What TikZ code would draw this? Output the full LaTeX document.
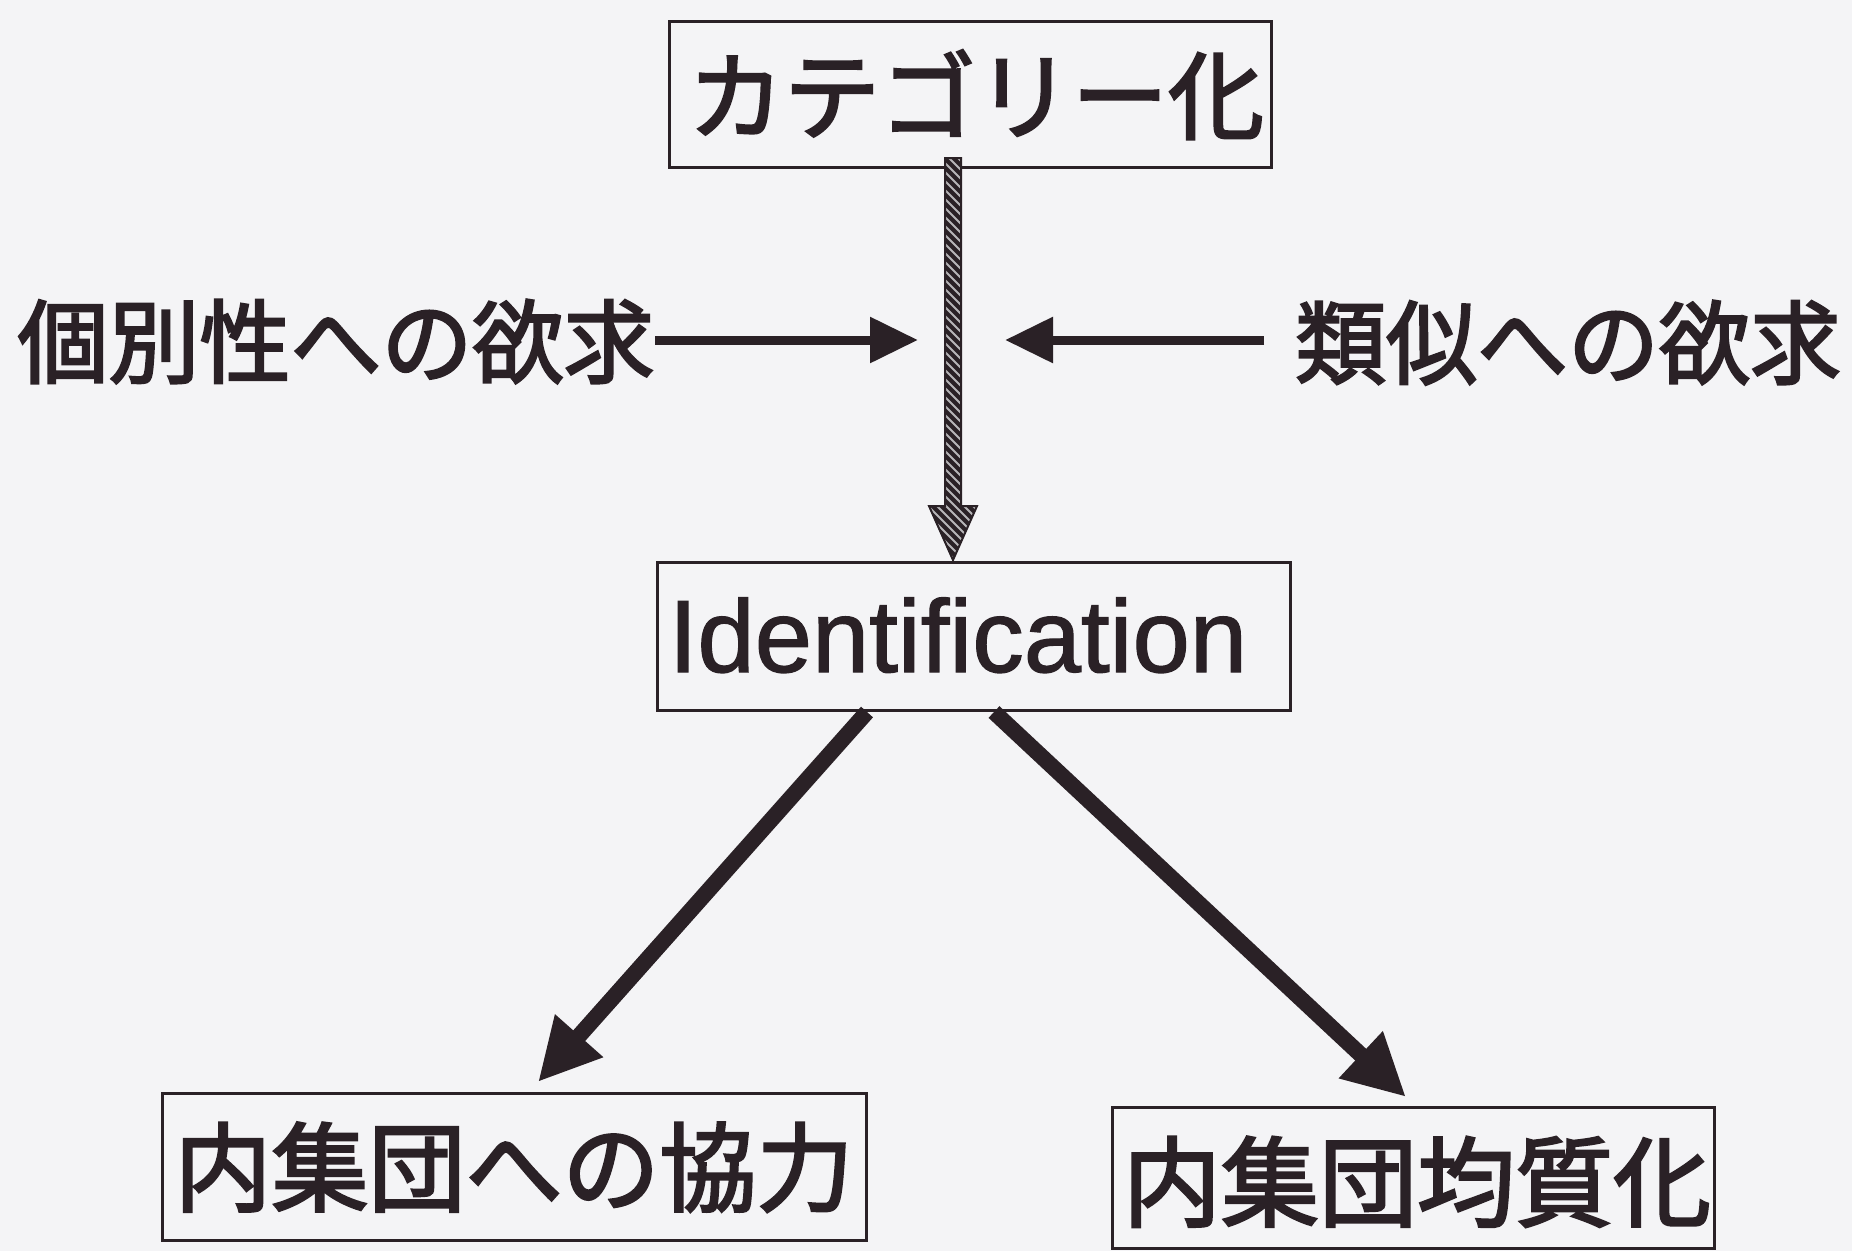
\documentclass[tikz,border=0pt]{standalone}
\usepackage{fontspec}
\newfontfamily\jp{Noto Sans CJK JP}[FakeBold=2.6]
\newfontfamily\lat{Liberation Sans}[FakeBold=1.2]
\usetikzlibrary{arrows.meta,calc}
\definecolor{ink}{RGB}{42,33,38}
\definecolor{bg}{RGB}{244,244,246}
\tikzset{
  boxnode/.style={draw=ink, line width=3pt, inner sep=0pt},
  txt/.style={text=ink, inner sep=0pt, anchor=base},
  sidearrow/.style={draw=ink, line width=9pt, -{Triangle[length=48pt,width=44pt]}},
  diagarrow/.style={draw=ink, line width=16pt, -{Triangle[length=62pt,width=60pt]}},
}
\begin{document}
\begin{tikzpicture}[x=1pt,y=-1pt]
\useasboundingbox[fill=bg] (0,0) rectangle (1852,1251);

% boxes
\node[boxnode, minimum width=602pt, minimum height=146pt] (catbox) at (970,94.5) {};
\node[boxnode, minimum width=633pt, minimum height=148pt] (idbox) at (973.5,636) {};
\node[boxnode, minimum width=704pt, minimum height=147pt] (coopbox) at (514,1166.5) {};
\node[boxnode, minimum width=602pt, minimum height=141pt] (homobox) at (1413,1177.5) {};

% texts
\node[txt, font=\fontsize{96pt}{100pt}\jp] (cat) at (976,132) {カテゴリー化};
\node[txt, font=\fontsize{103pt}{107pt}\lat] (ident) at (958,672) {Identification};
\node[txt, font=\fontsize{97pt}{100pt}\jp] (coop) at (514,1204) {内集団への協力};
\node[txt, font=\fontsize{98pt}{100pt}\jp] (homo) at (1417,1219) {内集団均質化};
\node[txt, font=\fontsize{91pt}{95pt}\jp] (indiv) at (336,376) {個別性への欲求};
\node[txt, font=\fontsize{91pt}{95pt}\jp] (simil) at (1568,377) {類似への欲求};

% side arrows
\coordinate (lstart) at (655,340);
\coordinate (ltip) at (918,340);
\coordinate (rstart) at (1264,340);
\coordinate (rtip) at (1005,340);
\draw[sidearrow] (lstart) -- (ltip);
\draw[sidearrow] (rstart) -- (rtip);

% hatched arrow from catbox to idbox
\coordinate (hs) at (953,158);
\coordinate (ht) at (953,560);
\def\hatchpath{($(hs)+(-8,0)$) -- ($(hs)+(8,0)$) -- ($(ht)+(8,-54)$) -- ($(ht)+(24,-54)$) -- (ht) -- ($(ht)+(-24,-54)$) -- ($(ht)+(-8,-54)$) -- cycle}
\fill[ink] \hatchpath;
\begin{scope}
  \clip \hatchpath;
  \foreach \i in {0,9,...,480} {
    \draw[bg!70!ink, line width=2pt] (920,120+\i) -- (990,190+\i);
  }
\end{scope}
\draw[ink, line width=2pt] \hatchpath;

% diagonal arrows
\coordinate (d1s) at (867,712);
\coordinate (d1t) at (538,1082);
\coordinate (d2s) at (994,712);
\coordinate (d2t) at (1406,1097);
\draw[diagarrow] (d1s) -- (d1t);
\draw[diagarrow] (d2s) -- (d2t);
\end{tikzpicture}
\end{document}
